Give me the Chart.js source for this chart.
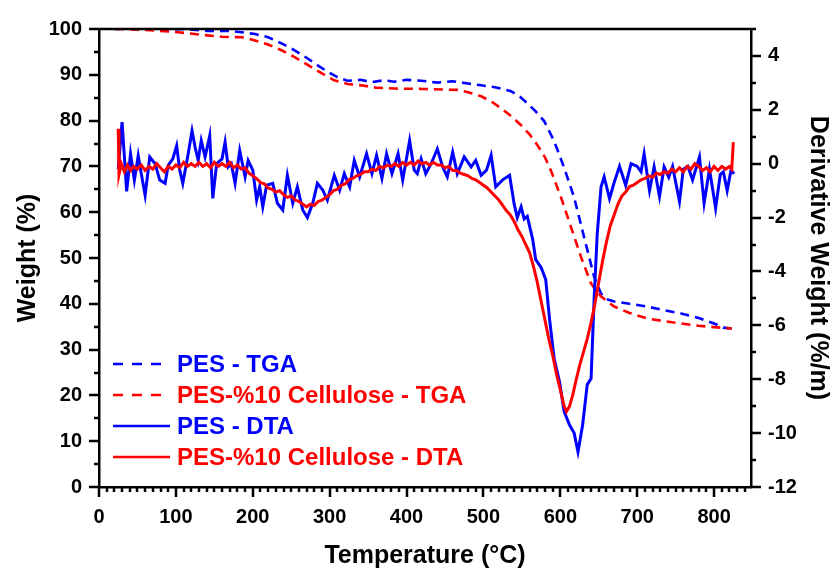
<!DOCTYPE html>
<html>
<head>
<meta charset="utf-8">
<script src="https://cdn.jsdelivr.net/npm/chart.js@4.4.1/dist/chart.umd.min.js"></script>
<style>
  html, body { margin: 0; padding: 0; background: #fff; }
</style>
</head>
<body>
<canvas id="tga-chart" width="837" height="571"></canvas>
<script>
// axis ticks
const tempTicks = [0, 100, 200, 300, 400, 500, 600, 700, 800];
const weightTicks = [0, 10, 20, 30, 40, 50, 60, 70, 80, 90, 100];
const derivTicks = [-12, -10, -8, -6, -4, -2, 0, 2, 4];

// PES - TGA (weight %)
const pesTgaTemp = [21, 50, 80, 110, 140, 168, 185, 203, 220, 238, 255, 272, 285, 297, 310, 323, 340, 355, 370, 384, 400, 419, 440, 460, 480, 497, 515, 536, 547, 557, 568, 579, 592, 605, 618, 631, 644, 653, 660, 670, 690, 713, 735, 757, 780, 800, 812, 823];
const pesTgaWeight = [100, 100.2, 99.8, 100, 99.6, 99.6, 99.3, 98.9, 98.2, 96.8, 95.3, 93.5, 92.0, 90.7, 89.5, 88.7, 88.9, 88.4, 88.8, 88.5, 88.9, 88.7, 88.3, 88.6, 88.1, 87.7, 87.3, 86.4, 85.3, 83.8, 82.0, 79.9, 75.5, 69.7, 63.2, 54.5, 45.9, 42.2, 41.0, 40.5, 40.0, 39.4, 38.6, 37.9, 36.9, 35.7, 34.8, 34.6];

// PES-%10 Cellulose - TGA
const celTgaTemp = [21, 60, 103, 130, 160, 186, 203, 220, 238, 255, 272, 290, 306, 323, 341, 360, 384, 423, 466, 480, 497, 510, 523, 536, 549, 560, 570, 580, 588, 601, 614, 627, 640, 653, 670, 690, 713, 735, 757, 780, 800, 823];
const celTgaWeight = [100, 99.8, 99.3, 98.8, 98.3, 98.2, 97.5, 96.6, 95.3, 93.8, 92.1, 90.3, 88.8, 88.0, 87.7, 87.2, 87.0, 86.9, 86.7, 86.2, 85.3, 84.2, 82.7, 81.0, 79.0, 77.0, 74.7, 72.0, 69.0, 63.2, 56.7, 50.2, 44.4, 41.6, 39.4, 38.0, 36.8, 36.2, 35.7, 35.2, 34.9, 34.6];

// PES - DTA (derivative weight %/m)
const pesDtaTemp = [25, 30, 36, 41, 46, 51, 55, 60, 66, 73, 79, 86, 90, 96, 101, 105, 109, 116, 121, 125, 129, 133, 138, 144, 148, 153, 160, 164, 168, 172, 177, 183, 190, 194, 200, 205, 209, 213, 218, 226, 232, 239, 245, 252, 258, 265, 271, 278, 284, 291, 297, 306, 313, 319, 326, 332, 339, 348, 355, 361, 368, 374, 381, 389, 395, 404, 410, 414, 419, 425, 432, 440, 447, 453, 460, 466, 475, 484, 490, 497, 504, 510, 516, 525, 534, 540, 544, 549, 553, 557, 564, 568, 575, 581, 586, 592, 599, 605, 612, 618, 623, 629, 635, 640, 644, 648, 653, 657, 664, 670, 677, 685, 692, 700, 705, 709, 716, 722, 729, 735, 741, 746, 755, 760, 766, 772, 781, 787, 794, 802, 808, 812, 817, 822, 826];
const pesDtaDeriv = [-0.2, 1.54, -1.03, 0.37, -0.61, 0.3, -0.37, -1.17, 0.25, 0, -0.61, -0.73, -0.06, 0.18, 0.67, -0.24, -0.73, 0.37, 1.22, 0.61, 0.12, 0.86, 0.25, 1.04, -1.29, 0, 0.18, 0.8, -0.12, 0, -0.73, 0.49, -0.49, 0.12, -0.24, -1.35, -0.86, -1.6, -0.8, -0.73, -1.47, -1.72, -0.43, -1.47, -0.86, -1.72, -2.0, -1.47, -0.73, -0.98, -1.35, -0.43, -0.98, -0.37, -0.86, 0.12, -0.49, 0.37, -0.37, 0.31, -0.55, 0.37, -0.37, 0.37, -0.61, 0.86, -0.24, -0.37, 0.18, -0.37, 0, 0.55, -0.12, -0.49, 0.43, -0.37, 0.25, -0.12, 0.12, -0.43, -0.24, 0.31, -0.86, -0.6, -0.43, -1.5, -2.0, -1.6, -2.05, -1.95, -2.8, -3.56, -3.85, -4.3, -5.77, -7.24, -8.1, -9.2, -9.7, -10.0, -10.7, -9.7, -8.2, -7.97, -5.0, -2.6, -0.86, -0.49, -1.3, -0.7, -0.1, -0.8, 0, -0.1, -0.3, 0.37, -1.0, -0.12, -1.22, -0.12, -0.5, -0.1, -1.4, -0.2, -0.1, -0.6, 0.25, -1.47, -0.2, -1.65, -0.4, -0.3, -1.0, -0.24, -0.37];

// PES-%10 Cellulose - DTA
const celDtaTemp = [25, 26, 29, 33, 37, 41, 45, 50, 55, 60, 65, 70, 75, 80, 85, 90, 95, 100, 105, 110, 115, 120, 125, 130, 135, 140, 145, 150, 155, 160, 165, 170, 175, 180, 185, 190, 195, 200, 205, 210, 215, 220, 225, 230, 235, 240, 245, 250, 255, 260, 265, 270, 275, 280, 285, 290, 295, 300, 305, 310, 315, 320, 325, 330, 335, 340, 345, 350, 355, 360, 365, 370, 375, 380, 385, 390, 395, 400, 405, 410, 415, 420, 425, 430, 435, 440, 445, 450, 455, 460, 465, 470, 475, 480, 485, 490, 495, 500, 505, 510, 515, 520, 525, 530, 535, 540, 545, 550, 555, 560, 565, 570, 575, 580, 585, 590, 595, 600, 605, 608, 612, 616, 620, 625, 630, 635, 640, 645, 650, 655, 660, 665, 670, 675, 680, 685, 690, 695, 700, 705, 710, 715, 720, 725, 730, 735, 740, 745, 750, 755, 760, 765, 770, 775, 780, 785, 790, 795, 800, 805, 810, 815, 820, 823, 825];
const celDtaDeriv = [1.3, -0.4, 0.0, -0.3, -0.05, -0.25, -0.1, -0.2, -0.05, -0.25, -0.1, -0.2, 0.0, -0.15, -0.3, -0.1, -0.2, -0.05, -0.15, 0.05, -0.1, 0.0, -0.1, 0.05, -0.1, 0.0, -0.15, 0.05, -0.1, 0.0, -0.1, 0.05, -0.15, -0.05, -0.2, -0.15, -0.35, -0.45, -0.55, -0.7, -0.75, -0.9, -0.95, -1.05, -1.0, -1.15, -1.25, -1.2, -1.35, -1.4, -1.5, -1.6, -1.5, -1.55, -1.4, -1.35, -1.25, -1.15, -1.0, -0.95, -0.8, -0.75, -0.6, -0.55, -0.45, -0.4, -0.3, -0.3, -0.2, -0.25, -0.1, -0.15, -0.05, -0.1, 0.0, -0.1, 0.05, -0.05, 0.05, -0.05, 0.1, 0.0, 0.05, -0.05, 0.05, -0.05, -0.05, -0.15, -0.1, -0.25, -0.25, -0.35, -0.4, -0.45, -0.55, -0.6, -0.7, -0.8, -0.9, -1.05, -1.2, -1.35, -1.55, -1.75, -1.9, -2.15, -2.45, -2.7, -3.0, -3.3, -3.8, -4.4, -5.1, -5.8, -6.5, -7.1, -7.8, -8.4, -9.0, -9.2, -9.0, -8.6, -8.1, -7.5, -7.0, -6.5, -5.9, -5.2, -4.4, -3.6, -2.9, -2.3, -1.9, -1.5, -1.2, -1.05, -0.85, -0.8, -0.7, -0.6, -0.55, -0.45, -0.5, -0.35, -0.4, -0.3, -0.35, -0.2, -0.3, -0.15, -0.3, -0.1, -0.2, 0.0, -0.1, -0.25, -0.15, -0.3, -0.1, -0.25, -0.1, -0.2, -0.1, -0.2, 0.8];

const FONT = "'Liberation Sans', Arial, sans-serif";
const BLUE = '#0000ff';
const RED = '#ff0000';

const pairs = (xs, ys) => xs.map((x, i) => ({ x, y: ys[i] }));

// minor/major tick marks and the top frame line
const frameTicks = {
    id: 'frameTicks',
    afterDraw(chart) {
        const { ctx, chartArea: a, scales } = chart;
        ctx.save();
        ctx.strokeStyle = '#000';
        ctx.lineWidth = 2.5;
        ctx.beginPath();
        ctx.moveTo(a.left - 1, a.top); ctx.lineTo(a.right + 1, a.top);
        for (let v = 0; v <= scales.x.max; v += 10) {
            const px = Math.round(scales.x.getPixelForValue(v));
            ctx.moveTo(px, a.bottom); ctx.lineTo(px, a.bottom + (v % 100 === 0 ? 10 : 5));
        }
        for (let v = 0; v <= 100; v += 5) {
            const py = Math.round(scales.y.getPixelForValue(v));
            ctx.moveTo(a.left, py); ctx.lineTo(a.left - (v % 10 === 0 ? 10 : 5), py);
        }
        for (let v = -12; v <= scales.y2.max; v += 1) {
            const py = Math.round(scales.y2.getPixelForValue(v));
            ctx.moveTo(a.right, py); ctx.lineTo(a.right + (v % 2 === 0 ? 10 : 5), py);
        }
        ctx.stroke();
        ctx.restore();
    }
};

// legend sits inside the plot, lower left, text in series colour
const insideLegend = {
    id: 'insideLegend',
    afterDraw(chart) {
        const { ctx, chartArea: a } = chart;
        ctx.save();
        ctx.font = `bold 24px ${FONT}`;
        ctx.textBaseline = 'middle';
        chart.data.datasets.forEach((ds, i) => {
            const yy = a.bottom - 123 + i * 31;
            ctx.strokeStyle = ds.borderColor;
            ctx.lineWidth = 2.5;
            ctx.setLineDash(ds.borderDash && ds.borderDash.length ? [10, 9] : []);
            ctx.beginPath();
            ctx.moveTo(a.left + 14, yy); ctx.lineTo(a.left + 71, yy);
            ctx.stroke();
            ctx.fillStyle = ds.borderColor;
            ctx.fillText(ds.label, a.left + 78, yy + 1);
        });
        ctx.restore();
    }
};

const tickFont = { family: FONT, size: 20, weight: 'bold' };
const titleFont = { family: FONT, size: 25, weight: 'bold' };

new Chart(document.getElementById('tga-chart'), {
    type: 'line',
    data: {
        datasets: [
            { label: 'PES - TGA', data: pairs(pesTgaTemp, pesTgaWeight), yAxisID: 'y', borderColor: BLUE, borderDash: [9, 6], borderWidth: 2.6, order: 3 },
            { label: 'PES-%10 Cellulose - TGA', data: pairs(celTgaTemp, celTgaWeight), yAxisID: 'y', borderColor: RED, borderDash: [9, 6], borderWidth: 2.6, order: 2 },
            { label: 'PES - DTA', data: pairs(pesDtaTemp, pesDtaDeriv), yAxisID: 'y2', borderColor: BLUE, borderWidth: 3, order: 1 },
            { label: 'PES-%10 Cellulose - DTA', data: pairs(celDtaTemp, celDtaDeriv), yAxisID: 'y2', borderColor: RED, borderWidth: 3, order: 0 }
        ]
    },
    options: {
        responsive: false,
        animation: false,
        layout: { padding: { top: 24, left: 0, right: 0, bottom: 0 } },
        elements: {
            point: { radius: 0 },
            line: { tension: 0, fill: false }
        },
        plugins: { legend: { display: false }, tooltip: { enabled: false } },
        scales: {
            x: {
                type: 'linear', min: 0, max: 848,
                afterBuildTicks: s => { s.ticks = tempTicks.map(value => ({ value })); },
                afterFit: s => { s.height = 84; },
                grid: { display: false, drawTicks: false },
                border: { color: '#000', width: 2.5 },
                ticks: { color: '#000', font: tickFont, padding: 18, maxRotation: 0 },
                title: { display: true, text: 'Temperature (°C)', color: '#000', font: titleFont, padding: { top: 0, bottom: 0 } }
            },
            y: {
                position: 'left', min: 0, max: 100,
                afterBuildTicks: s => { s.ticks = weightTicks.map(value => ({ value })); },
                afterFit: s => { s.width = 99; },
                grid: { display: false, drawTicks: false },
                border: { color: '#000', width: 2.5 },
                ticks: { color: '#000', font: tickFont, padding: 17 },
                title: { display: true, text: 'Weight (%)', color: '#000', font: titleFont, padding: { top: 13, bottom: 0 } }
            },
            y2: {
                position: 'right', min: -12, max: 5,
                afterBuildTicks: s => { s.ticks = derivTicks.map(value => ({ value })); },
                afterFit: s => { s.width = 86; },
                grid: { display: false, drawTicks: false },
                border: { color: '#000', width: 2.5 },
                ticks: { color: '#000', font: tickFont, padding: 17 },
                title: { display: true, text: 'Derivative Weight (%/m)', color: '#000', font: titleFont, padding: { top: 4, bottom: 0 } }
            }
        }
    },
    plugins: [frameTicks, insideLegend]
});
</script>
</body>
</html>
